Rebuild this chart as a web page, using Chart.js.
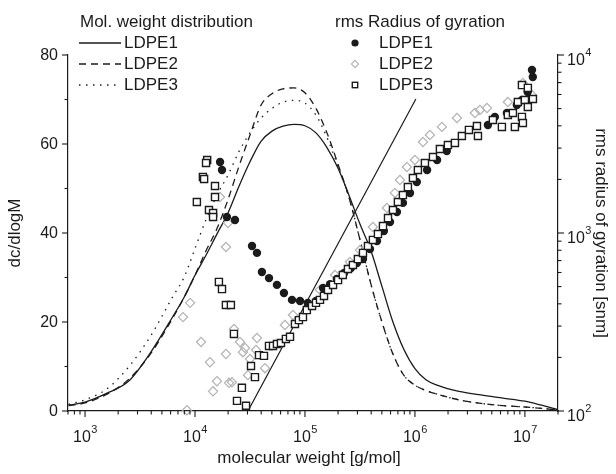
<!DOCTYPE html>
<html>
<head>
<meta charset="utf-8">
<script src="https://cdn.jsdelivr.net/npm/chart.js@4.4.1/dist/chart.umd.min.js"></script>
<style>
  html, body { margin: 0; padding: 0; background: #fff; }
  #wrap { width: 616px; height: 474px; position: relative; }
</style>
</head>
<body>
<div id="wrap"><canvas id="myChart"></canvas></div>
<script>
'use strict';

// molecular weight grid of the distribution curves [g/mol]
const mwGrid = [708, 1000, 1585, 2512, 3981, 6310, 7943, 10000, 12590, 15850, 19950, 25120,
  31620, 39810, 50120, 63100, 79430, 100000, 125900, 158500, 199500, 251200, 316200, 398100,
  501200, 631000, 794300, 1000000, 1259000, 1585000, 2512000, 3981000, 6310000, 10000000,
  14130000, 19950000];

// dc/dlogM
const mwdLDPE1 = [1.3, 2.0, 4.0, 6.8, 13.3, 21.3, 25.5, 30.5, 35, 39.8, 44.5, 50.5, 56, 60.6,
  62.9, 64, 64.4, 64.1, 62.5, 59.2, 54.6, 48.5, 42, 36, 28, 20, 13.8, 9.5, 7.0, 5.8, 4.4, 3.6,
  2.9, 2.2, 1.3, 0.3];
const mwdLDPE2 = [1.2, 1.8, 3.8, 7.2, 13, 21, 25.5, 30.5, 36, 41, 47.5, 55, 62, 68.7, 71.3, 72.4,
  72.6, 71.5, 68, 62.5, 55.5, 48, 38.5, 28.5, 20, 12.8, 8, 5.8, 4.6, 3.8, 2.5, 1.7, 1.2, 0.9,
  0.6, 0.2];
const mwdLDPE3 = [1.5, 2.5, 5, 10, 17, 25.8, 30, 36.5, 43, 48.5, 53, 58.3, 62.5, 65.8, 68, 69.4,
  69.8, 69.2, 66.5, 61.5, 55, 48, 38.5, 28.5, 20, 12.8, 8, 5.8, 4.6, 3.8, 2.5, 1.7, 1.2, 0.9,
  0.6, 0.2];

// rms radius of gyration vs molecular weight
const rgM1 = [16900, 17600, 19500, 23100, 33000, 36600, 40600, 47100, 55600, 64400, 76200, 90200,
  106000, 126000, 146000, 169000, 195000, 227000, 262000, 297000, 337000, 390000, 452000, 522000,
  593000, 686000, 778000, 902000, 1040000, 1290000, 1590000, 1950000, 4610000, 5330000, 6860000,
  8450000, 9400000, 10600000, 11800000, 11600000];
const rgR1 = [2506, 2259, 1230, 1183, 845, 773, 604, 558, 511, 460, 421, 415, 405, 415, 491, 516,
  552, 596, 635, 678, 714, 813, 902, 1026, 1153, 1312, 1476, 1679, 1936, 2259, 2570, 2891, 4046,
  4487, 4721, 5236, 5585, 6194, 7516, 8241];

const rgM2 = [7780, 9020, 8450, 11350, 13680, 15850, 14590, 16870, 19950, 19140, 19140, 20370,
  21680, 22650, 25650, 28510, 27290, 31620, 36640, 35890, 43280, 30340, 65790, 77800, 136800,
  187500, 256500, 316200, 415000, 555900, 657900, 731100, 845300, 1000000, 1183000, 1368000,
  1758000, 2410000, 3508000, 3899000, 4519000, 7000000, 9590000, 11590000];
const rgR2 = [337, 405, 101, 244, 188, 147, 129, 1592, 1138, 834, 209, 144, 145, 289, 244, 226,
  214, 196, 257, 220, 174, 159, 304, 346, 479, 581, 687, 802, 1081, 1381, 1679, 1986, 2349, 2570,
  3245, 3554, 3945, 4426, 4721, 4909, 5035, 5445, 6966, 5957];

const rgM3 = [12900, 12600, 11800, 12100, 15200, 15200, 10400, 13400, 14600, 14600, 16500, 17600,
  19100, 21200, 22600, 38200, 42400, 32300, 35100, 26700, 24100, 29100, 47100, 51200, 55600,
  60500, 67100, 73100, 81100, 88100, 95900, 104000, 116000, 126000, 137000, 149000, 162000,
  180000, 200000, 221000, 246000, 273000, 303000, 337000, 374000, 415000, 461000, 512000,
  569000, 631000, 700000, 778000, 863000, 959000, 1064000, 1233000, 1459000, 1687000, 1995000,
  2312000, 2673000, 3097000, 3664000, 3741000, 5117000, 6180000, 7000000, 7780000, 8110000,
  9400000, 9590000, 8630000, 10000000, 10640000, 11830000, 9400000, 10640000];
const rgR3 = [2570, 2472, 2065, 2011, 1837, 1592, 1493, 1346, 1295, 1230, 531, 484, 394, 394, 271,
  206, 204, 179, 155, 135, 114, 107, 232, 232, 238, 241, 254, 261, 308, 324, 337, 369, 389, 405,
  421, 443, 479, 511, 544, 581, 628, 661, 714, 773, 845, 914, 986, 1094, 1213, 1346, 1493, 1633,
  1811, 2037, 2259, 2472, 2673, 2965, 3119, 3206, 3508, 3793, 3990, 3508, 4315, 3945, 4603, 4721,
  3945, 4487, 4150, 5445, 5585, 5105, 5662, 6780, 6530];

// straight reference line (right axis)
const refM = [30300, 1020000];
const refR = [100, 5660];

// ticks
const xDecades = [100, 1000, 10000, 100000, 1000000, 10000000];
const xLabelExp = [3, 4, 5, 6, 7];
const yLeftMajor = [0, 20, 40, 60, 80];
const yLeftMinor = [10, 30, 50, 70];
const yRightExp = [2, 3, 4];

const INK = '#1b1b1b';
const GREY = '#b3b3b3';
const FONT = '"Liberation Sans", Arial, Helvetica, sans-serif';

function pairs(xs, ys) {
  return xs.map((v, i) => ({x: v, y: ys[i]}));
}

function line(ctx, x0, y0, x1, y1) {
  ctx.beginPath();
  ctx.moveTo(x0, y0);
  ctx.lineTo(x1, y1);
  ctx.stroke();
}

// "10" with a raised exponent, base = baseline of the "10"
function drawPow(ctx, exp, x, base, align) {
  ctx.font = '16px ' + FONT;
  const w10 = ctx.measureText('10').width;
  ctx.font = '11px ' + FONT;
  const wExp = ctx.measureText(String(exp)).width;
  const left = align === 'center' ? x - (w10 + wExp) / 2 : x;
  ctx.textAlign = 'left';
  ctx.textBaseline = 'alphabetic';
  ctx.font = '16px ' + FONT;
  ctx.fillText('10', left, base);
  ctx.font = '11px ' + FONT;
  ctx.fillText(String(exp), left + w10 + 0.5, base - 9.5);
}

const decor = {
  id: 'decor',
  afterDraw(chart) {
    const ctx = chart.ctx;
    const xs = chart.scales.x, ys = chart.scales.y, ys2 = chart.scales.y2;
    const a = chart.chartArea;
    ctx.save();
    ctx.strokeStyle = INK;
    ctx.fillStyle = INK;
    ctx.lineWidth = 1.1;

    // bottom ticks (log)
    xDecades.forEach(d => {
      for (let k = 1; k <= 9; k++) {
        const v = d * k;
        if (v < xs.min || v > xs.max) continue;
        const px = xs.getPixelForValue(v);
        line(ctx, px, a.bottom, px, a.bottom + (k === 1 ? 6 : 3.5));
      }
    });
    xLabelExp.forEach(e => {
      drawPow(ctx, e, xs.getPixelForValue(Math.pow(10, e)), a.bottom + 31, 'center');
    });

    // left ticks
    yLeftMajor.forEach(v => {
      const py = ys.getPixelForValue(v);
      line(ctx, a.left, py, a.left - 6, py);
    });
    yLeftMinor.forEach(v => {
      const py = ys.getPixelForValue(v);
      line(ctx, a.left, py, a.left - 3.5, py);
    });
    ctx.font = '16px ' + FONT;
    ctx.textAlign = 'right';
    ctx.textBaseline = 'middle';
    yLeftMajor.forEach(v => {
      ctx.fillText(String(v), a.left - 10, ys.getPixelForValue(v) + 1);
    });

    // right ticks (log)
    [100, 1000].forEach(d => {
      for (let k = 1; k <= 9; k++) {
        const py = ys2.getPixelForValue(d * k);
        line(ctx, a.right, py, a.right + (k === 1 ? 6 : 3.5), py);
      }
    });
    const top = ys2.getPixelForValue(10000);
    line(ctx, a.right, top, a.right + 6, top);
    yRightExp.forEach(e => {
      drawPow(ctx, e, a.right + 9, ys2.getPixelForValue(Math.pow(10, e)) + 10, 'left');
    });

    // axis titles
    ctx.font = '17px ' + FONT;
    ctx.textAlign = 'center';
    ctx.textBaseline = 'middle';
    ctx.fillText('molecular weight [g/mol]', 309, 458);
    ctx.save();
    ctx.translate(15, (a.top + a.bottom) / 2);
    ctx.rotate(-Math.PI / 2);
    ctx.fillText('dc/dlogM', 0, 0);
    ctx.restore();
    ctx.save();
    ctx.translate(601, (a.top + a.bottom) / 2);
    ctx.rotate(Math.PI / 2);
    ctx.fillText('rms radius of gyration [snm]', 0, 0);
    ctx.restore();

    // legend: molecular weight distribution
    ctx.textAlign = 'left';
    ctx.fillText('Mol. weight distribution', 80, 22);
    const rows = [43, 64, 85];
    const names = ['LDPE1', 'LDPE2', 'LDPE3'];
    const dashes = [[], [7, 5], [1.5, 5.5]];
    rows.forEach((ry, i) => {
      ctx.setLineDash(dashes[i]);
      ctx.lineWidth = 1.3;
      line(ctx, 79, ry, 121, ry);
      ctx.setLineDash([]);
      ctx.fillText(names[i], 124, ry);
    });

    // legend: rms radius of gyration
    ctx.fillText('rms Radius of gyration', 335, 22);
    rows.forEach((ry, i) => ctx.fillText(names[i], 379, ry));
    ctx.beginPath();
    ctx.arc(355, rows[0], 3.6, 0, Math.PI * 2);
    ctx.fill();
    ctx.strokeStyle = GREY;
    ctx.lineWidth = 1.1;
    ctx.beginPath();
    ctx.moveTo(355, rows[1] - 3.6);
    ctx.lineTo(358.6, rows[1]);
    ctx.lineTo(355, rows[1] + 3.6);
    ctx.lineTo(351.4, rows[1]);
    ctx.closePath();
    ctx.stroke();
    ctx.strokeStyle = INK;
    ctx.lineWidth = 1.4;
    ctx.strokeRect(352.3, rows[2] - 2.7, 5.4, 5.4);
    ctx.restore();
  }
};

const ctx = document.getElementById('myChart').getContext('2d');
const mwdStyle = {
  yAxisID: 'y',
  borderColor: INK,
  borderWidth: 1.3,
  pointRadius: 0,
  fill: false,
  cubicInterpolationMode: 'monotone'
};
const rgStyle = {
  yAxisID: 'y2',
  showLine: false,
  clip: false
};

window.chart = new Chart(ctx, {
  type: 'line',
  data: {
    datasets: [
      Object.assign({label: 'LDPE3 Rg', data: pairs(rgM3, rgR3), order: 1,
        pointStyle: 'rect', pointRadius: 5, borderWidth: 1.4,
        pointBackgroundColor: '#fff', pointBorderColor: INK}, rgStyle),
      Object.assign({label: 'LDPE1 Rg', data: pairs(rgM1, rgR1), order: 2,
        pointStyle: 'circle', pointRadius: 4.2, borderWidth: 0,
        pointBackgroundColor: INK, pointBorderColor: INK}, rgStyle),
      Object.assign({label: 'LDPE2 Rg', data: pairs(rgM2, rgR2), order: 3,
        pointStyle: 'rectRot', pointRadius: 4.6, borderWidth: 1.2,
        pointBackgroundColor: 'rgba(255,255,255,0)', pointBorderColor: GREY}, rgStyle),
      {label: 'slope', data: pairs(refM, refR), yAxisID: 'y2', order: 4,
        borderColor: INK, borderWidth: 1.2, pointRadius: 0},
      Object.assign({label: 'LDPE1', data: pairs(mwGrid, mwdLDPE1), order: 5}, mwdStyle),
      Object.assign({label: 'LDPE2', data: pairs(mwGrid, mwdLDPE2), order: 6,
        borderDash: [7, 5]}, mwdStyle),
      Object.assign({label: 'LDPE3', data: pairs(mwGrid, mwdLDPE3), order: 7,
        borderDash: [1.5, 5.5]}, mwdStyle)
    ]
  },
  options: {
    responsive: true,
    maintainAspectRatio: false,
    animation: false,
    layout: {padding: {top: 55, left: 0, right: 0, bottom: 0}},
    plugins: {legend: {display: false}, tooltip: {enabled: false}},
    scales: {
      x: {
        type: 'logarithmic', min: 700, max: 20000000,
        grid: {display: false},
        border: {display: true, color: INK, width: 1.2},
        ticks: {display: false},
        afterFit(s) { s.height = 63; }
      },
      y: {
        type: 'linear', position: 'left', min: 0, max: 80,
        grid: {display: false},
        border: {display: true, color: INK, width: 1.2},
        ticks: {display: false},
        afterFit(s) { s.width = 68; }
      },
      y2: {
        type: 'logarithmic', position: 'right', min: 100, max: 10000,
        grid: {display: false},
        border: {display: true, color: INK, width: 1.2},
        ticks: {display: false},
        afterFit(s) { s.width = 58; }
      }
    }
  },
  plugins: [decor]
});
</script>
</body>
</html>
